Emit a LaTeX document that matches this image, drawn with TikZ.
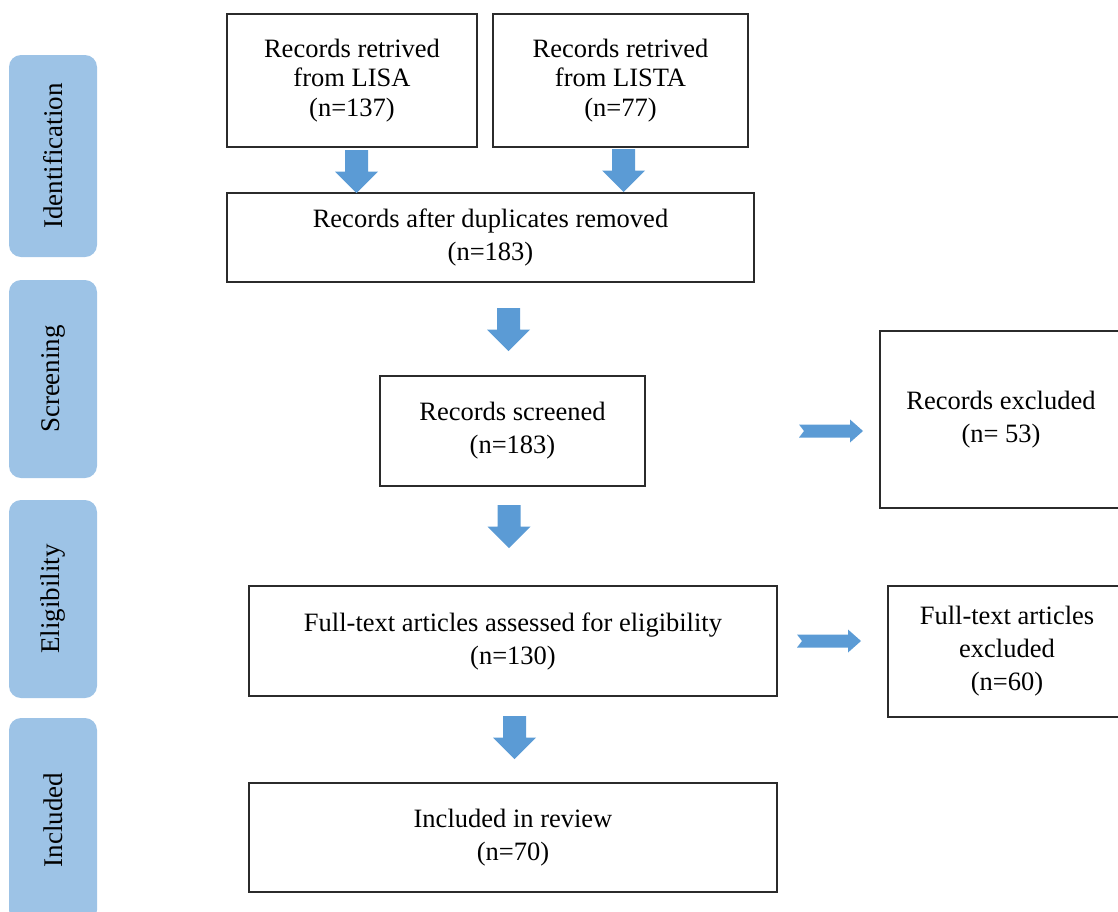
\documentclass[tikz,border=0pt]{standalone}
\usepackage{fontspec}
\setmainfont{Liberation Serif}
\definecolor{arrowblue}{HTML}{5B9BD5}
\definecolor{sideblue}{HTML}{9DC3E6}
\definecolor{boxline}{HTML}{2B2B2B}
\begin{document}
\begin{tikzpicture}[x=1pt,y=-1pt,
  box/.style={draw=boxline, line width=1.4pt, align=center, inner sep=0pt,
    font=\fontsize{26.5}{33}\selectfont},
  tightbox/.style={box, font=\fontsize{26.5}{29.5}\selectfont},
  side/.style={fill=sideblue, rounded corners=12pt, rotate=90, inner sep=0pt,
    minimum height=88pt, font=\fontsize{27}{30}\selectfont},
  darrow/.pic={\fill[arrowblue] (-11.5,0) -- (11.5,0) -- (11.5,21.5) -- (21.5,21.5) -- (0,43) -- (-21.5,21.5) -- (-11.5,21.5) -- cycle;},
  rarrow/.pic={\fill[arrowblue] (0,-6.5) -- (51,-6.5) -- (51,-11.5) -- (64,0) -- (51,11.5) -- (51,6.5) -- (0,6.5) -- (5,0) -- cycle;}
]
\useasboundingbox (0,0) rectangle (1118,911);
\clip (0,0) rectangle (1118,911);

% stage labels
\node[side, minimum width=202pt] (s1) at (53,156) {Identification};
\node[side, minimum width=198pt] (s2) at (53,379) {Screening};
\node[side, minimum width=198pt] (s3) at (53,599) {Eligibility};
\node[side, minimum width=204pt] (s4) at (53,820) {Included};

% boxes
\node[tightbox, minimum width=250pt, minimum height=133pt] (lisa) at (352,80.5) {Records retrived\\from LISA\\(n=137)};
\node[tightbox, minimum width=255pt, minimum height=133pt] (lista) at (620.5,80.5) {Records retrived\\from LISTA\\(n=77)};
\node[box, minimum width=527pt, minimum height=89pt] (dup) at (490.5,237.5) {Records after duplicates removed\\(n=183)};
\node[box, minimum width=265pt, minimum height=110pt] (scr) at (512.5,431) {Records screened\\(n=183)};
\node[box, minimum width=242pt, minimum height=177pt] (exc) at (1001,419.5) {Records excluded\\(n= 53)};
\node[box, minimum width=528pt, minimum height=110pt] (ft) at (513,641) {Full-text articles assessed for eligibility\\(n=130)};
\node[box, minimum width=238pt, minimum height=131pt] (ftx) at (1007,651.5) {Full-text articles\\excluded\\(n=60)};
\node[box, minimum width=528pt, minimum height=109pt] (inc) at (513,837.5) {Included in review\\(n=70)};

% block arrows
\pic at (356.5,150) {darrow};
\pic at (623.5,149) {darrow};
\pic at (508.5,308) {darrow};
\pic at (509,505) {darrow};
\pic at (514.5,716) {darrow};
\pic at (799,431) {rarrow};
\pic at (797,641) {rarrow};
\end{tikzpicture}
\end{document}
